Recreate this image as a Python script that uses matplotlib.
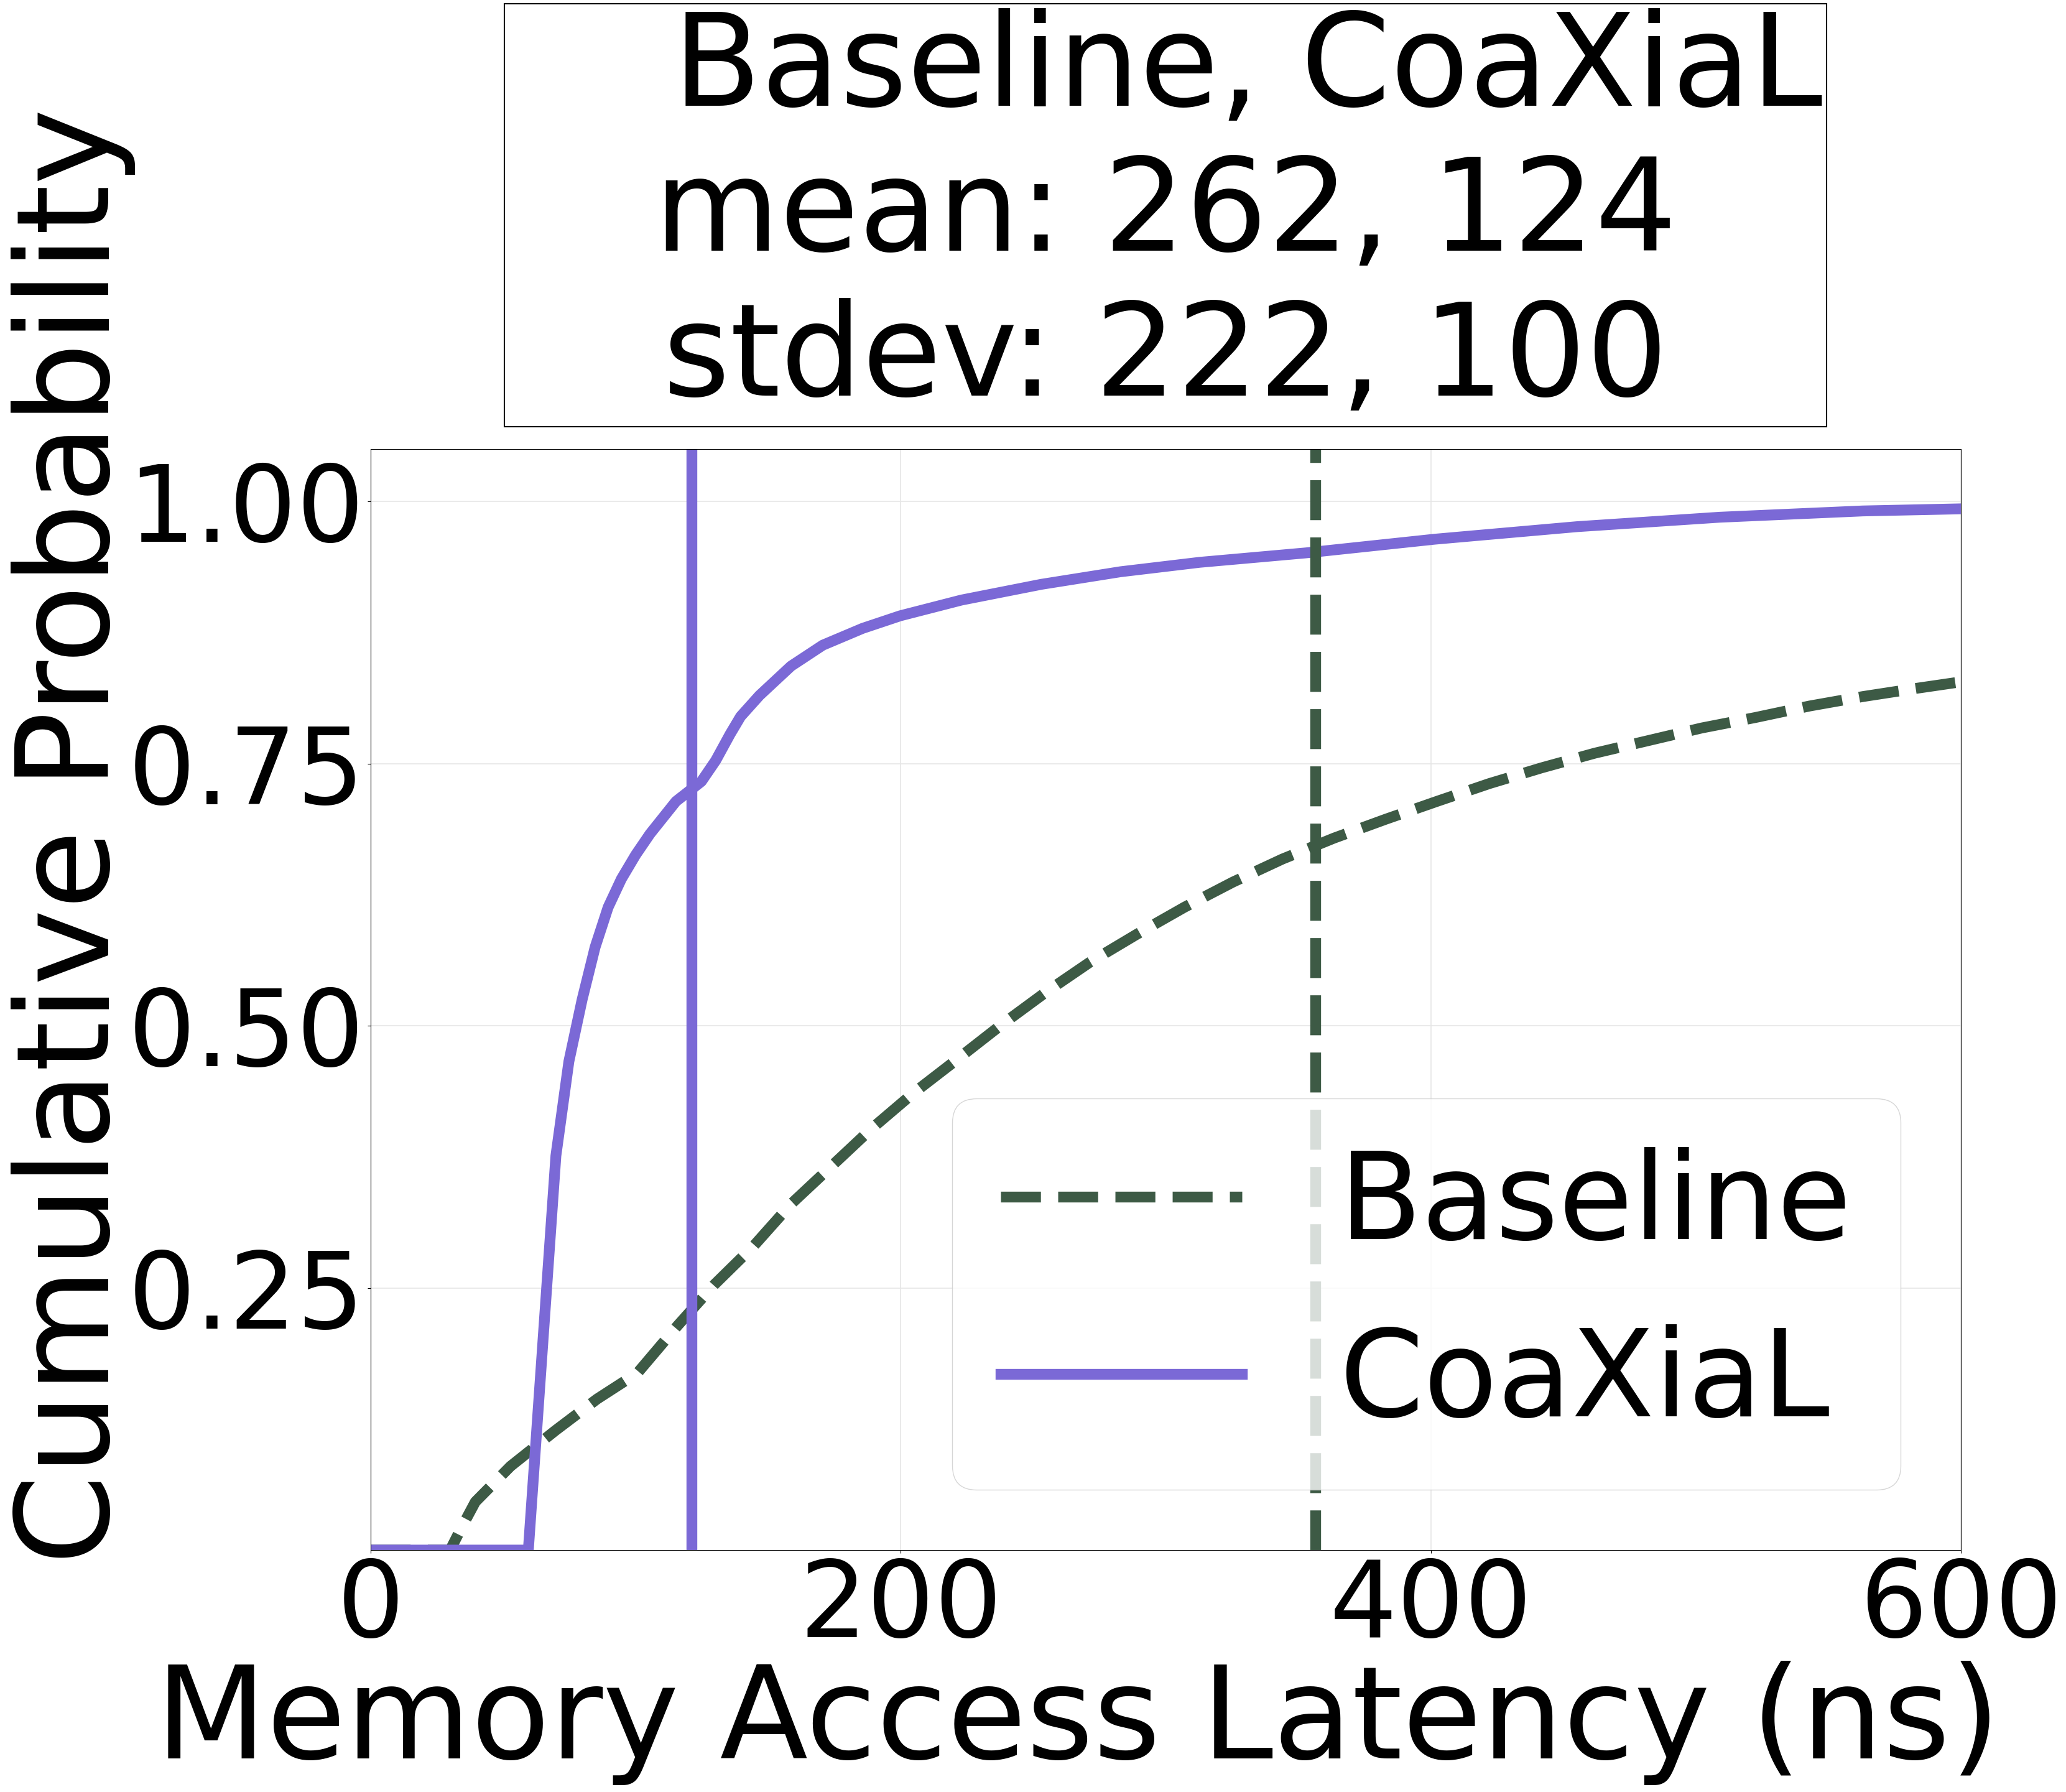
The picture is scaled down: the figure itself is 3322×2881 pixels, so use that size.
import matplotlib
matplotlib.use("Agg")
import matplotlib.pyplot as plt

# CDF of memory access latency
baseline_x = [0, 30, 34, 39.5, 52.8, 69.7, 85.4, 100.7, 115.8, 129.6, 144.5, 158.6,
              173.4, 188.6, 204.4, 220.8, 237, 254.2, 271, 288.9, 307, 325.3, 344,
              363.5, 383, 402.3, 422.1, 441.8, 461.9, 482.1, 502.2, 522.5, 543,
              563.1, 583.7, 600]
baseline_y = [0, 0, 0.02, 0.046, 0.08, 0.114, 0.144, 0.169, 0.214, 0.253, 0.290, 0.330,
              0.365, 0.401, 0.435, 0.467, 0.499, 0.531, 0.560, 0.587, 0.613, 0.637, 0.659,
              0.679, 0.697, 0.714, 0.731, 0.746, 0.760, 0.772, 0.784, 0.794, 0.805,
              0.814, 0.822, 0.828]

coaxial_x = [0, 59.5, 69.9, 74.8, 79.8, 84.7, 89.6, 94.6, 100, 105.4, 115.2, 124.8,
             130.2, 135.6, 139.6, 146.7, 158.6, 170.6, 185.6, 199.8, 222.9, 253,
             282.9, 312.8, 352.9, 401.3, 455.2, 509, 563, 600]
coaxial_y = [0, 0, 0.376, 0.466, 0.525, 0.575, 0.613, 0.640, 0.663, 0.683, 0.714, 0.733,
             0.753, 0.778, 0.795, 0.815, 0.843, 0.863, 0.879, 0.891, 0.906, 0.921,
             0.933, 0.942, 0.951, 0.964, 0.976, 0.985, 0.991, 0.993]

# vertical markers
baseline_vline = 356.4
coaxial_vline = 121

title_lines = ["    Baseline, CoaXiaL", "mean: 262, 124", "stdev: 222, 100"]
xticks = [0, 200, 400, 600]
yticks = [0.25, 0.50, 0.75, 1.00]

GREEN = "#3d5a45"
PURPLE = "#7b69d6"
LW = 12.5

fig = plt.figure(figsize=(33.22, 28.81), dpi=100)
ax = fig.add_axes([0.1794, 0.1350, 0.7697, 0.6144])

ax.plot(baseline_x, baseline_y, "--", color=GREEN, lw=LW, label="Baseline")
ax.plot(coaxial_x, coaxial_y, "-", color=PURPLE, lw=LW, label="CoaXiaL")
ax.axvline(baseline_vline, ls="--", color=GREEN, lw=LW)
ax.axvline(coaxial_vline, ls="-", color=PURPLE, lw=LW)

ax.set_xlim(0, 600)
ax.set_ylim(0, 1.05)
ax.set_xticks(xticks)
ax.set_yticks(yticks)
ax.set_yticklabels(["%.2f" % v for v in yticks])
ax.tick_params(labelsize=123)
ax.grid(True, color="#e6e6e6", lw=1.2)
ax.set_axisbelow(True)

ax.set_xlabel("Memory Access Latency (ns)", fontsize=149)
ax.set_ylabel("Cumulative Probability", fontsize=149)
ax.xaxis.set_label_coords(0.4447, -0.1006)
ax.yaxis.set_label_coords(-0.148, 0.6486)

ax.set_title("\n".join(title_lines), fontsize=149, linespacing=1.21, pad=62,
             bbox=dict(boxstyle="square,pad=0.035", fc="white", ec="black", lw=1.5))

ax.legend(loc="lower right", fontsize=140)

fig.savefig("out.png", dpi=100)
